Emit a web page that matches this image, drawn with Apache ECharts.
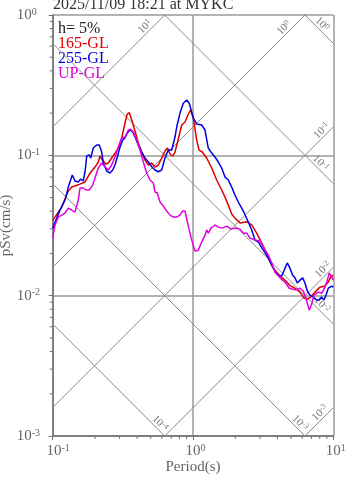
<!DOCTYPE html>
<html>
<head>
<meta charset="utf-8">
<script src="https://cdn.jsdelivr.net/npm/echarts@6/dist/echarts.min.js"></script>
<style>
  html, body { margin: 0; padding: 0; background: #fff; }
  #chart { width: 347px; height: 478px; }
</style>
</head>
<body>
<div id="chart"></div>
<script>
// Pseudo-velocity response spectra (h = 5%), period in s, pSv in cm/s
const periods165 = [0.1,0.1039,0.1096,0.1159,0.1224,0.1292,0.1366,0.1442,0.1565,0.1699,
  0.1794,0.1897,0.2002,0.2113,0.2174,0.2257,0.2386,0.249,0.2633,0.278,
  0.2935,0.3103,0.3276,0.3402,0.3516,0.3657,0.386,0.4075,0.4309,0.4549,
  0.4802,0.5077,0.536,0.5658,0.5983,0.6316,0.658,0.6857,0.7167,0.7443,
  0.7857,0.8308,0.877,0.9258,0.9598,1.005,1.063,1.104,1.165,1.252,
  1.359,1.475,1.602,1.691,1.785,1.887,1.992,2.163,2.414,2.621,
  2.844,3.088,3.352,3.639,3.842,4.169,4.526,4.913,5.333,5.789,
  6.182,6.526,6.9,7.406,8.039,8.727,9.213,9.583,10];
const psv165 = [0.0346,0.0363,0.0394,0.0428,0.0488,0.0557,0.0594,0.0604,0.0624,0.0645,
  0.0712,0.0773,0.0825,0.0896,0.0989,0.0926,0.0867,0.0882,0.0957,0.1038,
  0.1127,0.1328,0.1699,0.197,0.2012,0.1785,0.149,0.1224,0.1056,0.0926,
  0.0853,0.0882,0.0825,0.0853,0.0957,0.1073,0.1127,0.1022,0.0989,0.1056,
  0.1307,0.1644,0.1727,0.197,0.2103,0.1845,0.1285,0.1091,0.1056,0.0957,
  0.0812,0.0667,0.0566,0.0504,0.0442,0.0382,0.0357,0.0329,0.0336,0.0319,
  0.0279,0.0237,0.0201,0.0165,0.0152,0.0138,0.0129,0.0118,0.0113,0.0106,
  0.00961,0.00946,0.00977,0.0106,0.0115,0.0117,0.0125,0.0136,0.014];

const periods255 = [0.1,0.1068,0.1127,0.1165,0.1224,0.1292,0.1379,0.1442,0.1522,0.1583,
  0.1652,0.1707,0.1747,0.1823,0.1866,0.1947,0.2059,0.2148,0.2235,0.2295,
  0.2426,0.2561,0.2677,0.278,0.2887,0.3018,0.3155,0.3276,0.3402,0.3556,
  0.3717,0.386,0.4075,0.4309,0.4549,0.4802,0.5077,0.536,0.5658,0.5983,
  0.6316,0.6667,0.705,0.7443,0.7653,0.8077,0.8528,0.9018,0.941,1.005,
  1.063,1.153,1.218,1.285,1.359,1.435,1.515,1.602,1.691,1.785,
  1.887,1.992,2.103,2.283,2.479,2.621,2.767,2.921,3.17,3.442,
  3.639,3.842,4.055,4.288,4.526,4.699,4.913,5.135,5.333,5.538,
  5.789,6.051,6.284,6.526,6.821,7.201,7.615,7.947,8.266,8.584,
  8.872,9.213,9.741,10];
const psv255 = [0.0303,0.0357,0.0407,0.0435,0.048,0.0594,0.0724,0.0656,0.0645,0.0678,
  0.0656,0.0786,0.0989,0.1005,0.0957,0.1127,0.1184,0.1184,0.1056,0.0882,
  0.0773,0.0748,0.0786,0.0853,0.0973,0.1146,0.1285,0.1328,0.1442,0.1515,
  0.1466,0.135,0.1184,0.1056,0.0957,0.0896,0.083,0.0786,0.0764,0.0786,
  0.0957,0.1091,0.1091,0.135,0.1591,0.2001,0.2348,0.2478,0.2348,0.1845,
  0.1671,0.1644,0.1515,0.1127,0.1038,0.0973,0.0896,0.0812,0.07,0.0667,
  0.0594,0.0521,0.0465,0.0401,0.0335,0.0294,0.0249,0.0241,0.0211,0.0185,
  0.0165,0.0148,0.014,0.0138,0.0157,0.0171,0.0157,0.014,0.0134,0.0123,
  0.0129,0.0134,0.0123,0.0108,0.0101,0.00977,0.0093,0.0093,0.00977,0.0093,
  0.0101,0.0113,0.0117,0.0115];

const periodsUP = [0.1,0.1039,0.1096,0.1159,0.1224,0.1292,0.1366,0.1442,0.1522,0.1565,
  0.1652,0.1727,0.1823,0.1928,0.2002,0.2113,0.2235,0.2359,0.249,0.2633,
  0.278,0.2935,0.3103,0.3276,0.3458,0.3596,0.3753,0.3968,0.419,0.4424,
  0.4677,0.4937,0.5212,0.536,0.5567,0.5819,0.6142,0.6494,0.6857,0.7237,
  0.7653,0.8077,0.8444,0.877,0.9258,0.9788,1.033,1.091,1.153,1.218,
  1.252,1.285,1.344,1.435,1.515,1.618,1.739,1.866,1.992,2.163,
  2.283,2.414,2.549,2.767,3.003,3.26,3.442,3.639,3.842,4.169,
  4.526,4.857,5.333,5.789,6.111,6.463,6.743,7.015,7.285,7.818,
  8.266,8.727,9.063,9.366,9.741,10];
const psvUP = [0.0257,0.0319,0.0363,0.0375,0.0388,0.0421,0.0407,0.0394,0.048,0.0585,
  0.0585,0.0566,0.0566,0.0614,0.0689,0.0812,0.0882,0.0825,0.0786,0.0853,
  0.0973,0.1146,0.1328,0.135,0.1515,0.1532,0.1466,0.1285,0.1091,0.0896,
  0.0748,0.0667,0.0635,0.0548,0.0539,0.0465,0.0435,0.0401,0.0375,0.0363,
  0.0363,0.0375,0.0401,0.0401,0.0313,0.0249,0.0208,0.0211,0.0241,0.027,
  0.0294,0.0279,0.0303,0.0319,0.0308,0.0303,0.0313,0.0298,0.0303,0.0298,
  0.0279,0.0279,0.0257,0.0249,0.0245,0.0211,0.0195,0.0171,0.0147,0.0134,
  0.0125,0.0113,0.011,0.0113,0.0108,0.00915,0.00789,0.00871,0.0101,0.0106,
  0.0104,0.0115,0.0129,0.0145,0.0136,0.0129];

// Tripartite guide levels: displacement (cm) and acceleration (cm/s^2)
const dispLevels = [1e-4, 1e-3, 1e-2, 1e-1, 1];
const accLevels = [1e-3, 1e-2, 1e-1, 1, 10];

const seriesNames = ['165-GL', '255-GL', 'UP-GL'];
const seriesColors = ['#e00000', '#0000e0', '#e000e0'];
const titleText = '2025/11/09 18:21 at MYKC';
const dampingText = 'h= 5%';

const SERIF = '"Liberation Serif", "DejaVu Serif", serif';
const TWO_PI = 2 * Math.PI;
const T_MIN = 0.1, T_MAX = 10, V_MIN = 0.001, V_MAX = 1;

const velFromDisp = (d, T) => TWO_PI * d / T;
const velFromAcc = (a, T) => a * T / TWO_PI;

function zip(xs, ys) { return xs.map((x, i) => [x, ys[i]]); }
function expOf(v) { return Math.round(Math.log10(v)); }

// period at which each guide-line label sits
const dispLabelAt = { '0.0001': 0.582, '0.001': 5.79, '0.01': 8.31, '0.1': 8.12, '1': 8.31 };
const accLabelAt = { '0.001': 8.04, '0.01': 8.45, '0.1': 8.27, '1': 4.45, '10': 0.455 };

const guideSeries = [];
dispLevels.forEach(d => guideSeries.push({
  type: 'line', silent: true, symbol: 'none', z: 1, clip: true,
  lineStyle: { color: '#8a8a8a', width: 1 },
  data: [[T_MIN, velFromDisp(d, T_MIN)], [T_MAX, velFromDisp(d, T_MAX)]]
}));
accLevels.forEach(a => guideSeries.push({
  type: 'line', silent: true, symbol: 'none', z: 1, clip: true,
  lineStyle: { color: '#8a8a8a', width: 1 },
  data: [[T_MIN, velFromAcc(a, T_MIN)], [T_MAX, velFromAcc(a, T_MAX)]]
}));

// label anchors: [period, pSv, exponent, kind(0 = displacement, 1 = acceleration)]
const guideLabelData = [];
dispLevels.forEach(d => {
  const T = dispLabelAt[String(d)];
  guideLabelData.push([T, velFromDisp(d, T), expOf(d), 0]);
});
accLevels.forEach(a => {
  const T = accLabelAt[String(a)];
  guideLabelData.push([T, velFromAcc(a, T), expOf(a), 1]);
});

// minor ticks at 2..9 within each decade
const minorTickData = [];
for (let e = -1; e < 1; e++) for (let k = 2; k <= 9; k++) minorTickData.push([k * Math.pow(10, e), V_MIN, 0]);
for (let e = -3; e < 0; e++) for (let k = 2; k <= 9; k++) minorTickData.push([T_MIN, k * Math.pow(10, e), 1]);

const axisGrey = '#707070';
const labelGrey = '#666';

const powRich = {
  b: { fontSize: 15, lineHeight: 16, fontFamily: SERIF, color: labelGrey },
  s: { fontSize: 10, lineHeight: 11, fontFamily: SERIF, color: labelGrey, verticalAlign: 'top' },
  p0: { width: 5, lineHeight: 16 },
  p1: { width: 11, lineHeight: 16 }
};

const chart = echarts.init(document.getElementById('chart'), null, { renderer: 'canvas' });

chart.setOption({
  animation: false,
  backgroundColor: '#fff',
  grid: { left: 52.7, right: 13.7, top: 15, bottom: 42, containLabel: false, outerBoundsMode: 'none' },
  xAxis: {
    type: 'log', logBase: 10, min: T_MIN, max: T_MAX,
    name: 'Period(s)', nameLocation: 'middle', nameGap: 24, nameMoveOverlap: false,
    nameTextStyle: { fontFamily: SERIF, fontSize: 15, color: labelGrey, lineHeight: 15 },
    axisLine: { show: true, lineStyle: { color: axisGrey, width: 1.5 } },
    axisTick: { show: true, inside: false, length: 4, lineStyle: { color: axisGrey, width: 1 } },
    axisLabel: {
      margin: 7,
      formatter: v => {
        const e = expOf(v);
        return '{' + (e < 0 ? 'p1' : 'p0') + '|}{b|10}{s|' + e + '}';
      },
      rich: powRich
    },
    splitLine: { show: true, lineStyle: { color: '#9a9a9a', width: 1.5 } }
  },
  yAxis: {
    type: 'log', logBase: 10, min: V_MIN, max: V_MAX,
    name: 'pSv(cm/s)', nameLocation: 'middle', nameGap: 39, nameRotate: 90, nameMoveOverlap: false,
    nameTextStyle: { fontFamily: SERIF, fontSize: 15, color: labelGrey },
    axisLine: { show: true, lineStyle: { color: axisGrey, width: 1.5 } },
    axisTick: { show: true, inside: false, length: 4, lineStyle: { color: axisGrey, width: 1 } },
    axisLabel: {
      margin: 36, align: 'left',
      formatter: v => '{b|10}{s|' + expOf(v) + '}',
      rich: powRich
    },
    splitLine: { show: true, lineStyle: { color: '#9a9a9a', width: 1.5 } }
  },
  graphic: [
    { type: 'text', left: 53, top: -3, style: { text: titleText, font: '16px ' + SERIF, fill: '#333' } },
    { type: 'text', left: 58, top: 20.5, style: { text: dampingText, font: '16px ' + SERIF, fill: '#222' } },
    { type: 'text', left: 58, top: 35.5, style: { text: seriesNames[0], font: '16px ' + SERIF, fill: seriesColors[0] } },
    { type: 'text', left: 58, top: 50.5, style: { text: seriesNames[1], font: '16px ' + SERIF, fill: seriesColors[1] } },
    { type: 'text', left: 58, top: 65.5, style: { text: seriesNames[2], font: '16px ' + SERIF, fill: seriesColors[2] } }
  ],
  series: guideSeries.concat([
    {
      type: 'custom', silent: true, z: 2,
      data: guideLabelData,
      renderItem: (params, api) => {
        const p = api.coord([api.value(0), api.value(1)]);
        const isAcc = api.value(3) === 1;
        return {
          type: 'text',
          x: p[0], y: p[1] - 8,
          rotation: isAcc ? Math.PI / 4 : -Math.PI / 4,
          style: {
            text: '{b|10}{s|' + api.value(2) + '}',
            align: 'center', verticalAlign: 'middle',
            rich: {
              b: { fontSize: 11, lineHeight: 12, fontFamily: SERIF, fill: '#777' },
              s: { fontSize: 8, lineHeight: 8, fontFamily: SERIF, fill: '#777', verticalAlign: 'top' }
            }
          }
        };
      }
    },
    {
      type: 'custom', silent: true, z: 2,
      data: minorTickData,
      renderItem: (params, api) => {
        const p = api.coord([api.value(0), api.value(1)]);
        const onX = api.value(2) === 0;
        return {
          type: 'line',
          shape: onX ? { x1: p[0], y1: p[1], x2: p[0], y2: p[1] + 3 } : { x1: p[0] - 3, y1: p[1], x2: p[0], y2: p[1] },
          style: { stroke: axisGrey, lineWidth: 1 }
        };
      }
    },
    { name: seriesNames[0], type: 'line', symbol: 'none', z: 5, data: zip(periods165, psv165), lineStyle: { color: seriesColors[0], width: 1.5 } },
    { name: seriesNames[1], type: 'line', symbol: 'none', z: 5, data: zip(periods255, psv255), lineStyle: { color: seriesColors[1], width: 1.5 } },
    { name: seriesNames[2], type: 'line', symbol: 'none', z: 5, data: zip(periodsUP, psvUP), lineStyle: { color: seriesColors[2], width: 1.5 } }
  ])
});
</script>
</body>
</html>
